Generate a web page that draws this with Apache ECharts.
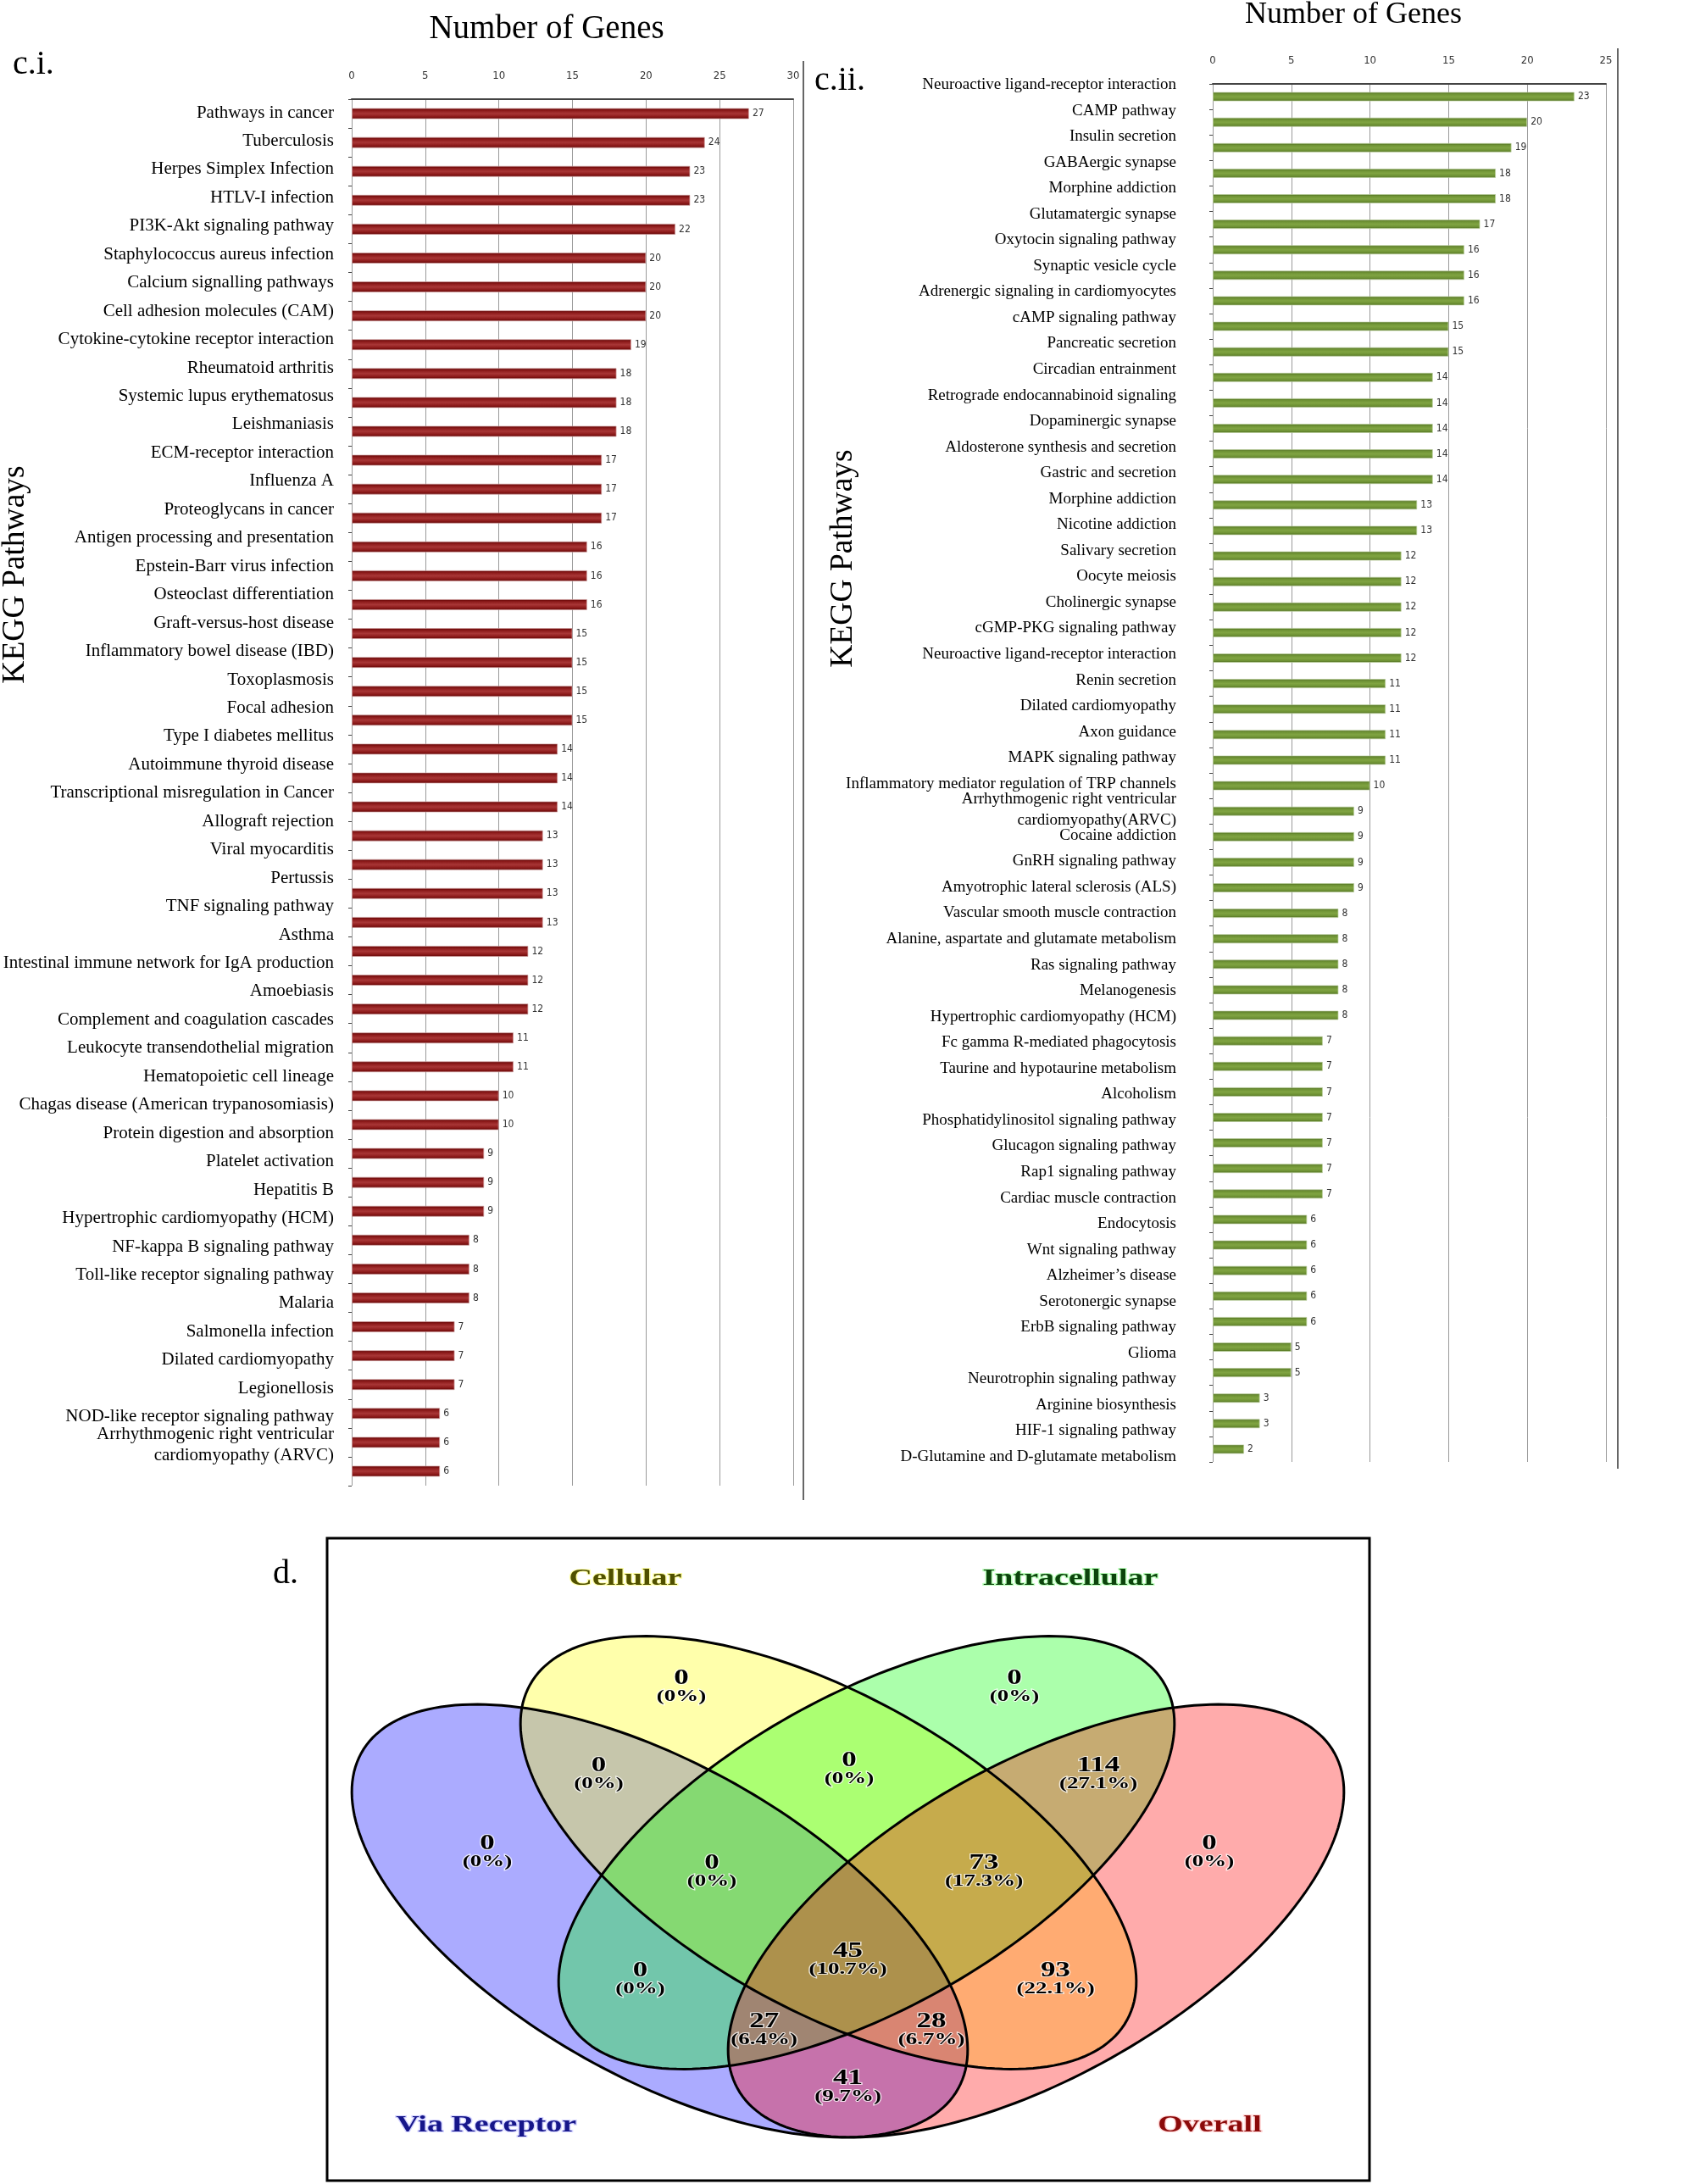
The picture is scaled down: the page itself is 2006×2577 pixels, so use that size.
<!DOCTYPE html>
<html>
<head>
<meta charset="utf-8">
<script src="https://cdn.jsdelivr.net/npm/echarts@6/dist/echarts.min.js"></script>
<style>
html,body{margin:0;padding:0;background:#fff;}
#main{width:2006px;height:2577px;}
</style>
</head>
<body>
<div id="main"></div>
<script>
// ---------------- DATA ----------------
const leftCategories = [
  'Pathways in cancer','Tuberculosis','Herpes Simplex Infection','HTLV-I infection',
  'PI3K-Akt signaling pathway','Staphylococcus aureus infection','Calcium signalling pathways',
  'Cell adhesion molecules (CAM)','Cytokine-cytokine receptor interaction','Rheumatoid arthritis',
  'Systemic lupus erythematosus','Leishmaniasis','ECM-receptor interaction','Influenza A',
  'Proteoglycans in cancer','Antigen processing and presentation','Epstein-Barr virus infection',
  'Osteoclast differentiation','Graft-versus-host disease','Inflammatory bowel disease (IBD)',
  'Toxoplasmosis','Focal adhesion','Type I diabetes mellitus','Autoimmune thyroid disease',
  'Transcriptional misregulation in Cancer','Allograft rejection','Viral myocarditis','Pertussis',
  'TNF signaling pathway','Asthma','Intestinal immune network for IgA production','Amoebiasis',
  'Complement and coagulation cascades','Leukocyte transendothelial migration',
  'Hematopoietic cell lineage','Chagas disease (American trypanosomiasis)',
  'Protein digestion and absorption','Platelet activation','Hepatitis B',
  'Hypertrophic cardiomyopathy (HCM)','NF-kappa B signaling pathway',
  'Toll-like receptor signaling pathway','Malaria','Salmonella infection','Dilated cardiomyopathy',
  'Legionellosis','NOD-like receptor signaling pathway',
  'Arrhythmogenic right ventricular\ncardiomyopathy (ARVC)'
];
const leftValues = [27,24,23,23,22,20,20,20,19,18,18,18,17,17,17,16,16,16,15,15,15,15,14,14,14,
  13,13,13,13,12,12,12,11,11,10,10,9,9,9,8,8,8,7,7,7,6,6,6];

const rightCategories = [
  'Neuroactive ligand-receptor interaction','CAMP pathway','Insulin secretion','GABAergic synapse',
  'Morphine addiction','Glutamatergic synapse','Oxytocin signaling pathway','Synaptic vesicle cycle',
  'Adrenergic signaling in cardiomyocytes','cAMP signaling pathway','Pancreatic secretion',
  'Circadian entrainment','Retrograde endocannabinoid signaling','Dopaminergic synapse',
  'Aldosterone synthesis and secretion','Gastric and secretion','Morphine addiction',
  'Nicotine addiction','Salivary secretion','Oocyte meiosis','Cholinergic synapse',
  'cGMP-PKG signaling pathway','Neuroactive ligand-receptor interaction','Renin secretion',
  'Dilated cardiomyopathy','Axon guidance','MAPK signaling pathway',
  'Inflammatory mediator regulation of TRP channels',
  'Arrhythmogenic right ventricular\ncardiomyopathy(ARVC)','Cocaine addiction',
  'GnRH signaling pathway','Amyotrophic lateral sclerosis (ALS)',
  'Vascular smooth muscle contraction','Alanine, aspartate and glutamate metabolism',
  'Ras signaling pathway','Melanogenesis','Hypertrophic cardiomyopathy (HCM)',
  'Fc gamma R-mediated phagocytosis','Taurine and hypotaurine metabolism','Alcoholism',
  'Phosphatidylinositol signaling pathway','Glucagon signaling pathway','Rap1 signaling pathway',
  'Cardiac muscle contraction','Endocytosis','Wnt signaling pathway','Alzheimer\u2019s disease',
  'Serotonergic synapse','ErbB signaling pathway','Glioma','Neurotrophin signaling pathway',
  'Arginine biosynthesis','HIF-1 signaling pathway','D-Glutamine and D-glutamate metabolism'
];
const rightValues = [23,20,19,18,18,17,16,16,16,15,15,14,14,14,14,14,13,13,12,12,12,12,12,
  11,11,11,11,10,9,9,9,9,8,8,8,8,8,7,7,7,7,7,7,7,6,6,6,6,6,5,5,3,3,2];

const leftAxisMax = 30, rightAxisMax = 25, tickStep = 5;

const vennSetNames = ['Via Receptor','Cellular','Intracellular','Overall'];
const vennRegionNames = ['Cellular only','Intracellular only','Via Receptor only','Overall only',
  'Cellular+Intracellular','Via Receptor+Cellular','Intracellular+Overall',
  'Via Receptor+Cellular+Intracellular','Cellular+Intracellular+Overall',
  'Via Receptor+Intracellular','Cellular+Overall','All four',
  'Via Receptor+Intracellular+Overall','Via Receptor+Cellular+Overall','Via Receptor+Overall'];
const vennCounts = [0,0,0,0,0,0,114,0,73,0,93,45,27,28,41];
const vennPercents = ['0%','0%','0%','0%','0%','0%','27.1%','0%','17.3%','0%','22.1%','10.7%','6.4%','6.7%','9.7%'];

// ---------------- LAYOUT ----------------
const VENN_BOX = {left:386, top:1815, width:1230, height:758};
const VENN_SQUASH = 0.703;
const VENN_ELLIPSES = [
  {cx:392.5, cy:451.5, a:459, b:231, angle:45,  fill:'rgba(0,0,255,0.33)'},
  {cx:591.5, cy:371,   a:459, b:231, angle:45,  fill:'rgba(255,255,0,0.33)'},
  {cx:636.5, cy:371,   a:459, b:231, angle:135, fill:'rgba(0,255,0,0.33)'},
  {cx:836.5, cy:451.5, a:459, b:231, angle:135, fill:'rgba(255,0,0,0.33)'}
];
const VENN_LABEL_POS = [[418,165],[811,165],[189,360],[1041,360],[616,262],[320.5,268],[910,268],
  [454,383],[775,383],[369.5,510],[859.6,510],[614.5,487],[515.7,570],[713,570],[614.5,637]];
const VENN_SET_POS = [[187.7,693],[352,48],[877,48],[1041.5,693]];
const VENN_SET_COLORS = ['#16168a','#505000','#0c440c','#8b0a0a'];
const VENN_SET_HALO = ['rgba(200,200,255,0.8)','rgba(255,255,160,0.9)','rgba(180,255,180,0.9)','rgba(255,200,200,0.8)'];

const SERIF = '"Liberation Serif","Times New Roman",serif';
const NARROW = '"Liberation Sans Narrow","DejaVu Sans Condensed","Liberation Sans",sans-serif';

function ellipsePoints(e){
  const pts = [];
  const th = e.angle*Math.PI/180, c = Math.cos(th), s = Math.sin(th);
  const N = 200;
  for (let k=0;k<N;k++){
    const t = 2*Math.PI*k/N, ca = Math.cos(t), sa = Math.sin(t);
    const X = e.a*ca*c - e.b*sa*s;
    const Y = e.a*ca*s + e.b*sa*c;
    pts.push([e.cx + X, e.cy + Y*VENN_SQUASH]);
  }
  return pts;
}

const redGrad = new echarts.graphic.LinearGradient(0,0,0,1,[
  {offset:0,color:'#5a0000'},{offset:0.22,color:'#8c1a1a'},{offset:0.5,color:'#a83636'},
  {offset:0.78,color:'#8c1a1a'},{offset:1,color:'#5a0000'}]);
const greenGrad = new echarts.graphic.LinearGradient(0,0,0,1,[
  {offset:0,color:'#46641a'},{offset:0.22,color:'#6e9234'},{offset:0.5,color:'#80a442'},
  {offset:0.78,color:'#6e9234'},{offset:1,color:'#46641a'}]);

function valueXAxis(grid, max){
  return {
    gridIndex: grid, type:'value', position:'top', min:0, max:max, interval:tickStep,
    axisLine:{show:true, lineStyle:{color:'#444', width:2}},
    axisTick:{show:false},
    axisLabel:{fontSize:13, margin:21, color:'#333', fontFamily:NARROW},
    splitLine:{show:true, lineStyle:{color:'#9a9a9a', width:1}}
  };
}
function hiddenXAxis(grid, max){
  return {gridIndex:grid, type:'value', min:0, max:max, show:false};
}

const chart = echarts.init(document.getElementById('main'), null, {renderer:'canvas'});

const option = {
  animation:false,
  backgroundColor:'#fff',
  grid:[
    {left:415, top:117, width:521, height:1636, outerBoundsMode:'none', containLabel:false},
    {left:415, top:116.3, width:521, height:1605.6, outerBoundsMode:'none', containLabel:false},
    {left:1431, top:99, width:464, height:1626, outerBoundsMode:'none', containLabel:false},
    {left:1431, top:84.7, width:464, height:1649.6, outerBoundsMode:'none', containLabel:false},
    {left:VENN_BOX.left, top:VENN_BOX.top, width:VENN_BOX.width, height:VENN_BOX.height, outerBoundsMode:'none', containLabel:false}
  ],
  xAxis:[
    valueXAxis(0, leftAxisMax),
    hiddenXAxis(1, leftAxisMax),
    valueXAxis(2, rightAxisMax),
    hiddenXAxis(3, rightAxisMax),
    {gridIndex:4, type:'value', min:0, max:VENN_BOX.width, show:false}
  ],
  yAxis:[
    {gridIndex:0, type:'category', data:leftCategories, inverse:true,
     axisLine:{show:false}, axisLabel:{show:false},
     axisTick:{show:true, length:4, lineStyle:{color:'#444', width:1}}, splitLine:{show:false}},
    {gridIndex:1, type:'category', data:leftCategories, inverse:true,
     axisLine:{show:false}, axisTick:{show:false}, splitLine:{show:false},
     axisLabel:{show:true, interval:0, fontSize:21, lineHeight:25, color:'#000', fontFamily:SERIF, margin:21}},
    {gridIndex:2, type:'category', data:rightCategories, inverse:true,
     axisLine:{show:false}, axisLabel:{show:false},
     axisTick:{show:true, length:4, lineStyle:{color:'#444', width:1}}, splitLine:{show:false}},
    {gridIndex:3, type:'category', data:rightCategories, inverse:true,
     axisLine:{show:false}, axisTick:{show:false}, splitLine:{show:false},
     axisLabel:{show:true, interval:0, fontSize:19, lineHeight:25, color:'#000', fontFamily:SERIF, margin:43}},
    {gridIndex:4, type:'value', min:0, max:VENN_BOX.height, inverse:true, show:false}
  ],
  series:[
    {type:'bar', xAxisIndex:0, yAxisIndex:0, data:leftValues, barWidth:13,
     itemStyle:{color:redGrad, borderColor:'rgba(210,160,160,0.7)', borderWidth:1},
     label:{show:true, position:'right', distance:4, fontSize:12, color:'#333', fontFamily:NARROW}},
    {type:'bar', xAxisIndex:2, yAxisIndex:2, data:rightValues, barWidth:11,
     itemStyle:{color:greenGrad, borderColor:'rgba(190,210,160,0.7)', borderWidth:1},
     label:{show:true, position:'right', distance:4, fontSize:12, color:'#333', fontFamily:NARROW}},
    // Venn fills
    {type:'custom', xAxisIndex:4, yAxisIndex:4, z:3, silent:true,
     data: vennSetNames.map((n,i)=>({name:n, value:[i,0]})),
     renderItem:(params, api)=>{
       const e = VENN_ELLIPSES[params.dataIndex];
       const pts = ellipsePoints(e).map(p=>api.coord(p));
       return {type:'polygon', shape:{points:pts}, style:{fill:e.fill, stroke:null, lineWidth:0}};
     }},
    // Venn outlines
    {type:'custom', xAxisIndex:4, yAxisIndex:4, z:4, silent:true,
     data: vennSetNames.map((n,i)=>({name:n, value:[i,0]})),
     renderItem:(params, api)=>{
       const e = VENN_ELLIPSES[params.dataIndex];
       const pts = ellipsePoints(e).map(p=>api.coord(p));
       return {type:'polygon', shape:{points:pts}, style:{fill:'none', stroke:'#000', lineWidth:3}};
     }},
    // Venn region counts
    {type:'custom', xAxisIndex:4, yAxisIndex:4, z:5, silent:true,
     data: vennCounts.map((c,i)=>({name:vennRegionNames[i], value:[i,c]})),
     renderItem:(params, api)=>{
       const i = params.dataIndex;
       const pos = VENN_LABEL_POS[i];
       const p1 = api.coord(pos);
       const p2 = api.coord([pos[0], pos[1]+22]);
       return {type:'group', children:[
         {type:'text', x:p1[0], y:p1[1], scaleY:0.72,
          style:{text:String(vennCounts[i]), fontSize:35, fontWeight:'bold', fontFamily:SERIF,
                 fill:'#000', align:'center', verticalAlign:'middle',
                 stroke:'rgba(255,255,255,0.75)', lineWidth:3, strokeFirst:true}},
         {type:'text', x:p2[0], y:p2[1], scaleY:0.72,
          style:{text:'('+vennPercents[i]+')', fontSize:27, fontWeight:'bold', fontFamily:SERIF,
                 fill:'#000', align:'center', verticalAlign:'middle',
                 stroke:'rgba(255,255,255,0.75)', lineWidth:3, strokeFirst:true}}
       ]};
     }},
    // Venn set names
    {type:'custom', xAxisIndex:4, yAxisIndex:4, z:5, silent:true,
     data: vennSetNames.map((n,i)=>({name:n, value:[i,0]})),
     renderItem:(params, api)=>{
       const i = params.dataIndex;
       const p = api.coord(VENN_SET_POS[i]);
       return {type:'text', x:p[0], y:p[1], scaleY:0.72,
         style:{text:vennSetNames[i], fontSize:38, fontWeight:'bold', fontFamily:SERIF,
                fill:VENN_SET_COLORS[i], align:'center', verticalAlign:'middle',
                stroke:VENN_SET_HALO[i], lineWidth:3, strokeFirst:true}};
     }}
  ],
  graphic:[
    {type:'text', x:645, y:35, style:{text:'Number of Genes', fontSize:39, fontFamily:SERIF, fill:'#000', align:'center', verticalAlign:'middle'}},
    {type:'text', x:1597, y:18, style:{text:'Number of Genes', fontSize:36, fontFamily:SERIF, fill:'#000', align:'center', verticalAlign:'middle'}},
    {type:'text', x:15, y:76, style:{text:'c.i.', fontSize:40, fontFamily:SERIF, fill:'#000', align:'left', verticalAlign:'middle'}},
    {type:'text', x:961, y:95, style:{text:'c.ii.', fontSize:40, fontFamily:SERIF, fill:'#000', align:'left', verticalAlign:'middle'}},
    {type:'text', x:322, y:1857, style:{text:'d.', fontSize:40, fontFamily:SERIF, fill:'#000', align:'left', verticalAlign:'middle'}},
    {type:'text', x:18, y:678, rotation:Math.PI/2, style:{text:'KEGG Pathways', fontSize:37.5, fontFamily:SERIF, fill:'#000', align:'center', verticalAlign:'middle'}},
    {type:'text', x:995, y:659, rotation:Math.PI/2, style:{text:'KEGG Pathways', fontSize:37.5, fontFamily:SERIF, fill:'#000', align:'center', verticalAlign:'middle'}},
    {type:'line', shape:{x1:948, y1:72, x2:948, y2:1770}, style:{stroke:'#666', lineWidth:2}},
    {type:'line', shape:{x1:1909, y1:57, x2:1909, y2:1733}, style:{stroke:'#666', lineWidth:2}},
    {type:'rect', shape:{x:VENN_BOX.left, y:VENN_BOX.top, width:VENN_BOX.width, height:VENN_BOX.height},
     style:{fill:'none', stroke:'#000', lineWidth:3}}
  ]
};
chart.setOption(option);
</script>
</body>
</html>
